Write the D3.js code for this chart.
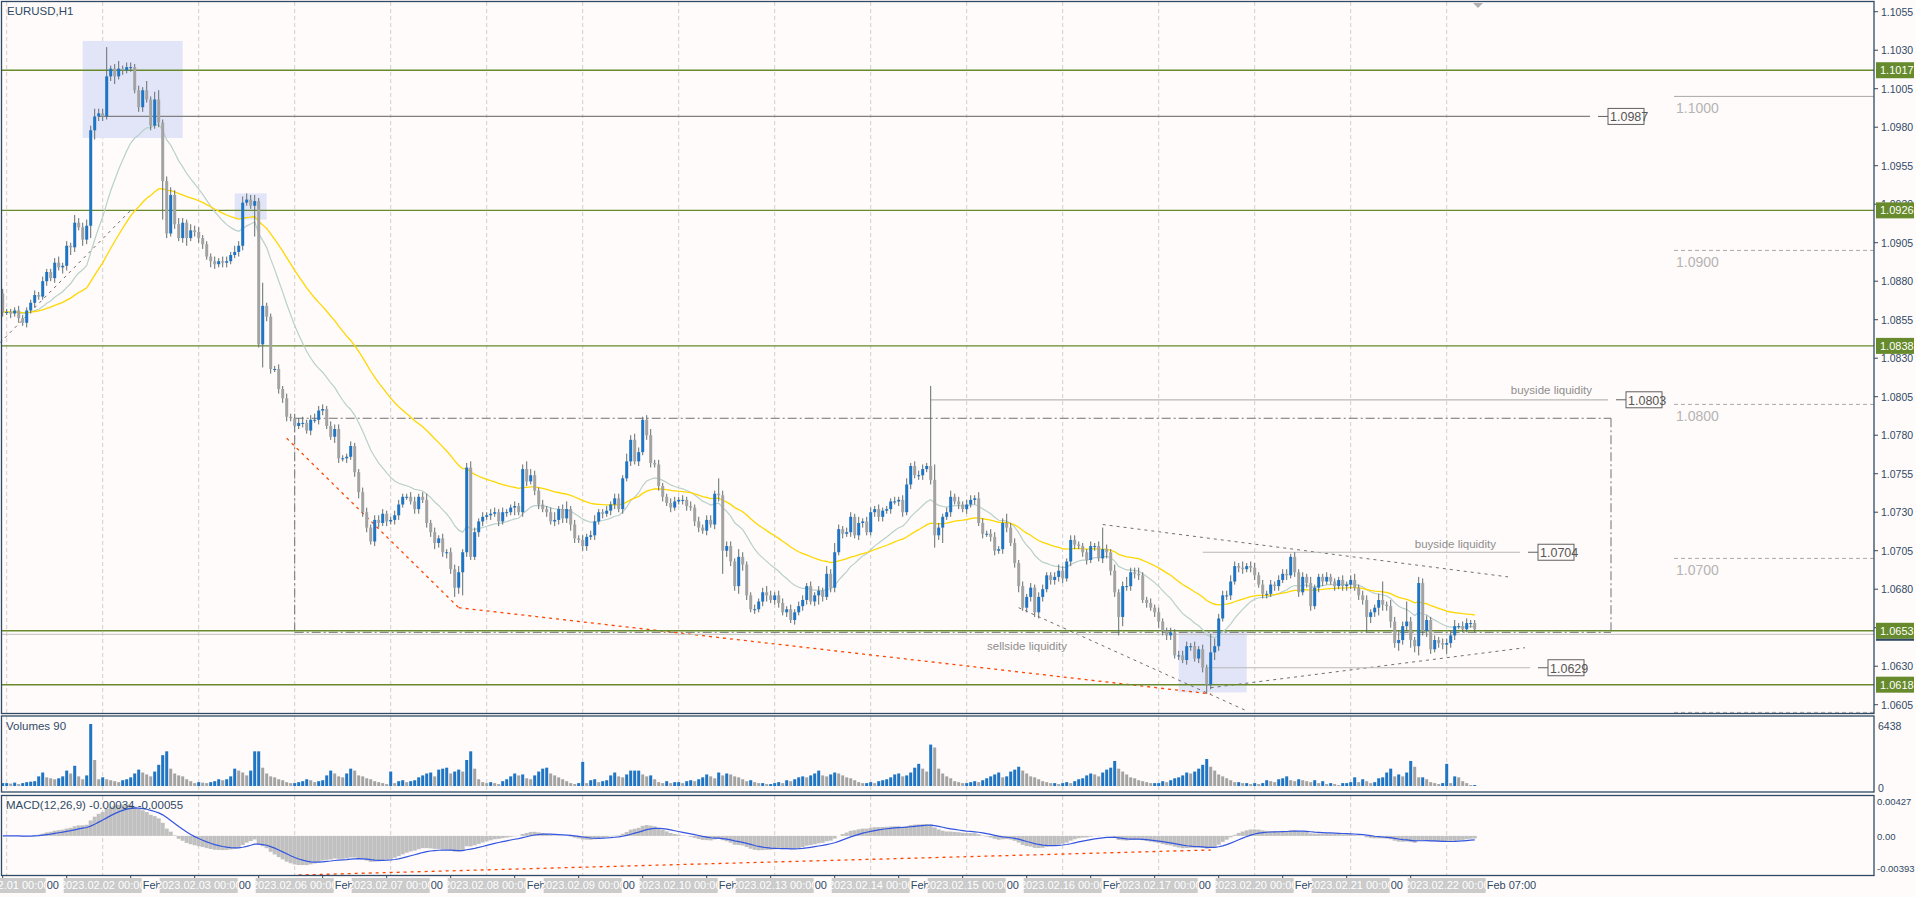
<!DOCTYPE html>
<html><head><meta charset="utf-8">
<script src="https://cdn.jsdelivr.net/npm/d3@7"></script>
<style>body{margin:0;background:#fffbfa;}svg{display:block;}</style>
</head><body>
<svg id="c" width="1916" height="897"></svg>
<script>
// ---------- DATA ----------
const firstOpen = 1.0872;
const closes = [1.0860,
1.0860,1.0859,1.0861,1.0856,1.0853,1.0861,1.0866,1.0871,1.0870,1.0880,1.0886,1.0882,1.0892,1.0889,1.0890,1.0903,1.0902,1.0918,1.0915,1.0907,1.0916,1.0978,1.0987,1.0989,
1.0987,1.1013,1.1018,1.1013,1.1018,1.1017,1.1019,1.1019,1.1004,1.0993,1.1004,1.0998,1.0981,1.0998,1.0983,1.0945,1.0911,1.0936,1.0917,1.0908,1.0918,1.0908,1.0913,1.0912,
1.0908,1.0904,1.0896,1.0893,1.0891,1.0893,1.0892,1.0893,1.0897,1.0899,1.0903,1.0931,1.0933,1.0929,1.0932,1.0839,1.0864,1.0857,1.0823,1.0823,1.0810,1.0804,1.0792,1.0791,
1.0786,1.0788,1.0788,1.0783,1.0790,1.0790,1.0796,1.0797,1.0786,1.0779,1.0784,1.0765,1.0765,1.0766,1.0773,1.0756,1.0743,1.0730,1.0720,1.0711,1.0725,1.0723,1.0729,1.0724,
1.0725,1.0728,1.0735,1.0740,1.0740,1.0737,1.0732,1.0740,1.0738,1.0723,1.0717,1.0710,1.0713,1.0704,1.0704,1.0693,1.0681,1.0691,1.0704,1.0759,1.0701,1.0717,1.0724,1.0727,
1.0728,1.0729,1.0730,1.0724,1.0730,1.0730,1.0733,1.0734,1.0730,1.0758,1.0750,1.0754,1.0744,1.0735,1.0732,1.0730,1.0724,1.0725,1.0732,1.0726,1.0732,1.0722,1.0713,1.0712,
1.0708,1.0714,1.0715,1.0724,1.0730,1.0729,1.0731,1.0735,1.0739,1.0732,1.0752,1.0763,1.0777,1.0763,1.0769,1.0790,1.0780,1.0762,1.0761,1.0747,1.0740,1.0736,1.0733,1.0737,
1.0738,1.0738,1.0734,1.0733,1.0724,1.0720,1.0718,1.0725,1.0722,1.0742,1.0741,1.0705,1.0708,1.0698,1.0682,1.0701,1.0696,1.0676,1.0667,1.0667,1.0672,1.0678,1.0676,1.0673,
1.0676,1.0671,1.0665,1.0667,1.0660,1.0665,1.0669,1.0673,1.0682,1.0672,1.0676,1.0679,1.0675,1.0690,1.0681,1.0704,1.0719,1.0716,1.0717,1.0727,1.0715,1.0723,1.0724,1.0717,
1.0730,1.0732,1.0727,1.0731,1.0732,1.0737,1.0737,1.0738,1.0730,1.0748,1.0760,1.0754,1.0754,1.0758,1.0760,1.0751,1.0715,1.0720,1.0727,1.0730,1.0740,1.0737,1.0735,1.0732,
1.0735,1.0738,1.0739,1.0723,1.0716,1.0716,1.0714,1.0705,1.0706,1.0723,1.0720,1.0710,1.0697,1.0682,1.0668,1.0675,1.0681,1.0665,1.0675,1.0680,1.0689,1.0686,1.0688,1.0692,
1.0687,1.0698,1.0712,1.0709,1.0708,1.0704,1.0699,1.0708,1.0708,1.0700,1.0706,1.0704,1.0692,1.0678,1.0662,1.0682,1.0682,1.0691,1.0690,1.0689,1.0673,1.0671,1.0668,1.0665,
1.0659,1.0653,1.0650,1.0652,1.0637,1.0637,1.0634,1.0643,1.0643,1.0635,1.0641,1.0629,1.0618,1.0639,1.0643,1.0661,1.0676,1.0676,1.0685,1.0695,1.0694,1.0693,1.0695,1.0694,
1.0689,1.0683,1.0677,1.0677,1.0683,1.0682,1.0686,1.0690,1.0689,1.0701,1.0691,1.0678,1.0688,1.0684,1.0669,1.0681,1.0688,1.0685,1.0688,1.0685,1.0682,1.0686,1.0682,1.0683,
1.0686,1.0681,1.0676,1.0673,1.0662,1.0665,1.0668,1.0673,1.0670,1.0669,1.0659,1.0645,1.0647,1.0656,1.0659,1.0647,1.0643,1.0684,1.0653,1.0660,1.0641,1.0647,1.0645,1.0644,
1.0645,1.0650,1.0656,1.0656,1.0654,1.0658,1.0658,1.0654];
// wick extensions in pips above max(open,close) / below min(open,close)
const wickUp = [3,
2,2,2,3,2,2,2,3,2,3,2,2,3,4,2,3,2,5,3,3,4,3,5,3,
3,19,2,3,5,2,3,3,2,3,2,6,2,5,6,2,3,5,3,4,3,2,4,3,
3,2,2,2,3,2,3,3,2,4,3,4,4,3,4,2,15,2,2,2,3,2,3,2,
3,3,4,2,3,4,3,3,2,3,3,3,2,2,3,2,2,3,3,2,3,3,3,2,
2,3,3,2,2,3,3,2,3,4,2,3,2,3,2,3,3,4,2,3,4,3,2,3,
2,3,3,2,3,2,2,3,2,3,5,4,3,2,3,2,3,5,2,3,5,2,3,2,
3,2,3,4,2,2,3,2,3,3,2,5,3,4,3,2,3,4,2,3,2,2,3,3,
2,3,2,3,2,3,2,3,3,2,10,3,3,3,2,5,3,2,2,3,2,3,4,3,
2,3,3,2,3,2,3,3,2,3,2,3,2,5,3,6,3,2,3,3,2,4,2,3,
3,2,3,2,2,2,3,2,3,4,2,3,3,3,2,52,10,3,2,3,4,2,3,2,
3,3,2,4,3,2,3,3,2,3,6,3,3,2,3,2,3,2,3,3,2,2,3,4,
3,2,3,3,2,2,2,3,2,3,14,3,2,4,2,3,6,3,3,4,2,2,3,2,
3,2,2,3,2,3,3,3,2,3,2,3,2,12,5,3,3,3,4,3,2,4,2,3,
3,2,3,2,3,2,3,3,3,2,3,2,3,2,4,2,2,2,3,2,2,2,3,2,
3,4,2,3,3,2,2,4,12,2,4,3,6,3,13,3,2,4,3,3,2,3,2,3,
3,3,4,2,3,3,2,2];
const wickDn = [3,
2,3,2,3,2,3,2,3,2,2,3,2,3,2,4,3,5,3,2,4,3,8,6,3,
3,2,3,5,2,3,2,3,2,3,3,2,3,2,3,25,3,2,3,2,3,5,2,3,
3,3,2,4,3,2,3,3,2,2,3,3,2,2,20,2,15,3,3,2,3,3,3,2,
3,2,3,2,3,2,3,3,2,2,4,3,2,3,2,3,4,3,3,2,3,3,2,3,
2,3,3,2,2,2,3,3,2,3,3,4,3,3,4,3,6,4,15,3,2,2,3,3,
2,3,2,3,2,3,2,5,2,3,3,2,3,3,2,3,2,3,3,3,3,4,3,2,
3,3,2,3,2,3,2,3,3,2,3,2,3,2,3,2,3,3,2,3,3,2,3,2,
2,3,3,2,3,3,2,3,2,3,4,15,4,3,3,5,4,3,2,3,2,3,4,2,
3,3,2,3,2,3,2,3,3,2,3,6,3,2,3,3,2,3,2,3,2,3,3,2,
2,3,3,3,2,3,2,3,3,2,3,2,3,3,2,3,8,3,10,2,3,2,3,2,
3,2,3,2,3,2,3,3,2,3,3,2,3,4,2,3,3,3,4,3,2,3,3,3,
3,2,3,3,2,3,3,2,3,2,3,4,3,3,12,6,3,3,3,3,2,3,2,3,
4,3,3,3,2,3,2,3,3,2,3,3,6,3,5,3,2,3,3,2,3,3,2,3,
3,2,3,3,2,3,3,2,3,2,3,3,2,3,3,2,3,3,2,2,3,2,3,3,
3,2,3,3,10,4,3,5,4,3,4,3,5,3,3,5,4,6,3,4,3,2,3,3,
6,3,3,2,2,2,3,2];
const volumes = [300,
300,250,350,200,300,400,450,500,1000,1400,900,800,700,800,1000,1600,1300,2100,1000,700,1100,6438,2700,700,
900,700,600,500,400,600,700,900,1300,1700,1400,1200,1000,1500,2200,3200,3600,1800,1300,1100,1000,700,500,300,
400,350,300,400,500,700,600,700,1000,1800,1600,1400,1100,1600,3600,3600,1900,1300,1000,900,700,600,400,300,
300,400,500,700,600,400,500,600,1100,1600,1300,1000,900,1300,1800,1600,1100,1000,800,700,500,400,300,200,
1500,300,500,600,400,500,600,900,1100,1300,1400,1000,1700,1800,1900,1300,1500,1700,1500,2700,3600,1800,700,400,
300,400,300,200,500,700,1000,1300,1100,1200,800,700,1100,1500,1800,1900,1300,1100,900,700,500,300,200,300,
2500,300,600,700,400,500,600,1100,1400,1000,900,1200,1600,1600,1600,1200,1000,1100,700,400,300,500,300,400,
400,300,500,600,500,700,900,1200,1000,800,1400,1100,1300,1200,1000,900,700,500,600,400,300,300,200,200,
300,400,300,600,500,700,900,1000,900,1100,1300,1600,1100,1000,1200,1400,1300,1100,900,800,600,400,300,300,
400,300,500,600,700,900,1200,1300,1000,1100,1400,1900,2300,1800,1500,4300,4000,1800,1300,1000,800,500,400,300,
300,400,500,400,600,800,1000,1200,1400,900,1000,1500,1700,2000,1600,1300,1000,900,700,500,400,300,300,200,
300,400,300,500,700,800,1100,1300,1200,1000,1400,1700,1900,2600,1800,1500,1200,900,800,600,500,400,300,300,
300,500,400,600,800,900,1100,1400,1300,1500,1800,2200,2800,2000,1600,1200,1000,800,600,400,400,300,300,200,
300,200,300,600,500,400,700,800,1000,600,500,700,600,500,400,600,300,500,200,300,200,100,300,300,
400,900,400,700,500,300,400,800,900,1400,1800,1000,1200,1000,1400,2600,2000,900,900,700,400,300,200,300,
2300,300,1000,900,500,300,100,100];
const dayLabels = ["2023.02.01 00:00","2023.02.02 00:00","2023.02.03 00:00","2023.02.06 00:00","2023.02.07 00:00","2023.02.08 00:00","2023.02.09 00:00","2023.02.10 00:00","2023.02.13 00:00","2023.02.14 00:00","2023.02.15 00:00","2023.02.16 00:00","2023.02.17 00:00","2023.02.20 00:00","2023.02.21 00:00","2023.02.22 00:00"];
const gapFragments = ["00","Feb","00","Feb","00","Feb","00","Feb","00","Feb","00","Feb","00","Feb","00"];
const priceTicks = [1.1055,1.1030,1.1005,1.0980,1.0955,1.0930,1.0905,1.0880,1.0855,1.0830,1.0805,1.0780,1.0755,1.0730,1.0705,1.0680,1.0655,1.0630,1.0605];
const greenLevels = [1.1017,1.0926,1.0838,1.0653,1.0618];
const roundLevels = [1.1000,1.0900,1.0800,1.0700,1.0600];
const volTicks = [6438,0];
const macdTicks = [0.00427,0,-0.00393];
const macdTickLabels = ["0.00427","0.00","-0.00393"];

// ---------- SETUP ----------
const svg = d3.select("#c");
const N = closes.length;
const opens = closes.map((c,i)=> i===0 ? firstOpen : closes[i-1]);
const highs = closes.map((c,i)=> Math.max(c,opens[i]) + wickUp[i]/10000);
const lows  = closes.map((c,i)=> Math.min(c,opens[i]) - wickDn[i]/10000);

const AX = 1874;
const x = d3.scaleLinear().domain([0, N-1]).range([2.7, 2.7+4*(N-1)]);
const y = d3.scaleLinear().domain([1.10626, 1.10626-713/15400]).range([0, 713]);
const yv = d3.scaleLinear().domain([0, 6438]).range([786, 724]);
const ym = d3.scaleLinear().domain([-0.00393, 0.00427]).range([868, 801]);
const FONT = "Liberation Sans, Arial, sans-serif";
const AXC = "#2f4a66";
const GREEN = "#668a2c";

svg.append("rect").attr("width",1916).attr("height",897).attr("fill","#fffbfa");

const grid = svg.append("g");
dayLabels.forEach((d,k)=>{
  const i = 1+24*k;
  [[2,713],[716,792],[796,875]].forEach(([a,b])=>{
    grid.append("line").attr("x1",x(i)).attr("x2",x(i)).attr("y1",a).attr("y2",b)
      .attr("stroke","#cfcfcf").attr("stroke-dasharray","4,3");
  });
});

const hl = svg.append("g").attr("fill","#e2e5f8");
hl.append("rect").attr("x",x(20)).attr("y",y(1.1036)).attr("width",x(45)-x(20)).attr("height",y(1.0973)-y(1.1036));
hl.append("rect").attr("x",x(58)).attr("y",y(1.0937)).attr("width",x(66)-x(58)).attr("height",y(1.0920)-y(1.0937));
hl.append("rect").attr("x",x(294)).attr("y",y(1.0653)).attr("width",x(311)-x(294)).attr("height",y(1.0613)-y(1.0653));

roundLevels.forEach((p,k)=>{
  svg.append("line").attr("x1",1674).attr("x2",AX).attr("y1",y(p)).attr("y2",y(p))
    .attr("stroke","#a8a8a8").attr("stroke-dasharray", k===0? null : "4,3");
  if(k<4) svg.append("text").attr("x",1676).attr("y",y(p)+17).text(p.toFixed(4))
    .attr("font-family",FONT).attr("font-size",14).attr("fill","#b4b4b4");
});

const rb = svg.append("g").attr("stroke","#707070").attr("fill","none").attr("stroke-dasharray","9,3,2,3");
rb.append("line").attr("x1",x(73)).attr("x2",1611).attr("y1",y(1.0791)).attr("y2",y(1.0791));
rb.append("line").attr("x1",x(73)).attr("x2",1611).attr("y1",y(1.0652)).attr("y2",y(1.0652));
rb.append("line").attr("x1",x(73)).attr("x2",x(73)).attr("y1",y(1.0791)).attr("y2",y(1.0652));
rb.append("line").attr("x1",1611).attr("x2",1611).attr("y1",y(1.0791)).attr("y2",y(1.0652));

const tl = svg.append("g").attr("stroke","#707070").attr("stroke-dasharray","3,4").attr("fill","none");
tl.append("line").attr("x1",0).attr("y1",y(1.0840)).attr("x2",x(32)).attr("y2",y(1.0926));
tl.append("line").attr("x1",x(275)).attr("y1",y(1.0722)).attr("x2",1508).attr("y2",y(1.0688));
tl.append("line").attr("x1",x(254)).attr("y1",y(1.0668)).attr("x2",x(311)).attr("y2",y(1.0601));
tl.append("line").attr("x1",x(302)).attr("y1",y(1.0616)).attr("x2",1525).attr("y2",y(1.0642));

const red = svg.append("g").attr("stroke","#ff4500").attr("stroke-dasharray","3,4").attr("stroke-width",1.3).attr("fill","none");
red.append("line").attr("x1",x(71)).attr("y1",y(1.0778)).attr("x2",x(114)).attr("y2",y(1.0668));
red.append("line").attr("x1",x(114)).attr("y1",y(1.0668)).attr("x2",x(302)).attr("y2",y(1.0612));
red.append("line").attr("x1",x(74)).attr("y1",875).attr("x2",x(302)).attr("y2",850);

greenLevels.forEach(p=>{
  svg.append("line").attr("x1",2).attr("x2",AX).attr("y1",y(p)).attr("y2",y(p))
    .attr("stroke",GREEN).attr("stroke-width",1.4);
});
svg.append("line").attr("x1",2).attr("x2",AX).attr("y1",y(1.0652)+2).attr("y2",y(1.0652)+2).attr("stroke","#c0c0c0");

function levelLine(p, x1, x2, label, dark){
  svg.append("line").attr("x1",x1).attr("x2",x2).attr("y1",y(p)).attr("y2",y(p)).attr("stroke", dark?"#808080":"#b8b8b8").attr("stroke-width",1.2);
  svg.append("line").attr("x1",x2+8).attr("x2",x2+18).attr("y1",y(p)).attr("y2",y(p)).attr("stroke","#606060");
  svg.append("rect").attr("x",x2+18).attr("y",y(p)-8).attr("width",36).attr("height",16).attr("fill","#fffbfa").attr("stroke","#606060");
  svg.append("text").attr("x",x2+20).attr("y",y(p)+5).text(label).attr("font-family",FONT).attr("font-size",12.5).attr("fill","#555");
}
levelLine(1.0987, x(24), 1590, "1.0987", true);
levelLine(1.0803, x(232), 1608, "1.0803");
levelLine(1.0704, x(300), 1520, "1.0704");
levelLine(1.0629, x(301), 1530, "1.0629");
function note(t, xr, yy){ svg.append("text").attr("x",xr).attr("y",yy).attr("text-anchor","end").text(t)
  .attr("font-family",FONT).attr("font-size",11.5).attr("fill","#8e8e8e"); }
note("buyside liquidity", 1592, 394);
note("buyside liquidity", 1496, 548);
note("sellside liquidity", 1067, 650);

function ema(arr, n){ const k=2/(n+1); let e=arr[0]; return arr.map(v=> (e = v*k + e*(1-k))); }
const ema20 = ema(closes,20), ema50 = ema(closes,50);
const line = d3.line().x((d,i)=>x(i)).y(d=>y(d));
svg.append("path").attr("d",line(ema20)).attr("fill","none").attr("stroke","#b8d0cc").attr("stroke-width",1.2);
svg.append("path").attr("d",line(ema50)).attr("fill","none").attr("stroke","#ffd700").attr("stroke-width",1.3);

const cg = svg.append("g");
closes.forEach((c,i)=>{
  const o=opens[i], up=c>=o;
  cg.append("line").attr("x1",x(i)).attr("x2",x(i)).attr("y1",y(highs[i])).attr("y2",y(lows[i])).attr("stroke","#5f6f70");
  const t=y(Math.max(o,c)), b=y(Math.min(o,c));
  cg.append("rect").attr("x",x(i)-1.5).attr("width",3).attr("y",t).attr("height",Math.max(1,b-t))
    .attr("fill", up? "#1f74c4":"#a3a3a3");
});

volumes.forEach((v,i)=>{
  const up = i===0 || v>=volumes[i-1];
  svg.append("rect").attr("x",x(i)-1.5).attr("width",3).attr("y",yv(v)).attr("height",yv(0)-yv(v))
    .attr("fill", up? "#1f74c4":"#a3a3a3");
});

const e12=ema(closes,12), e26=ema(closes,26);
const macd=e12.map((v,i)=>v-e26[i]);
const sig=ema(macd,9);
macd.forEach((m,i)=>{
  svg.append("rect").attr("x",x(i)-2).attr("width",4).attr("y",Math.min(ym(m),ym(0))).attr("height",Math.abs(ym(m)-ym(0)))
    .attr("fill","#c0c0c0");
});
svg.append("path").attr("d",d3.line().x((d,i)=>x(i)).y(d=>ym(d))(sig)).attr("fill","none").attr("stroke","#3355e0").attr("stroke-width",1.2);

const pb = svg.append("g").attr("fill","none").attr("stroke",AXC).attr("stroke-width",1.3);
pb.append("rect").attr("x",1.5).attr("y",1.5).attr("width",AX-1.5).attr("height",712);
pb.append("rect").attr("x",1.5).attr("y",716).attr("width",AX-1.5).attr("height",76);
pb.append("rect").attr("x",1.5).attr("y",795.5).attr("width",AX-1.5).attr("height",80);

function ttl(t,xx,yy){ svg.append("text").attr("x",xx).attr("y",yy).text(t).attr("font-family",FONT).attr("font-size",11.5).attr("fill",AXC); }
ttl("EURUSD,H1",7,15);
ttl("Volumes 90",6,730);
ttl("MACD(12,26,9) -0.00034 -0.00055",6,809);

priceTicks.forEach(p=>{
  svg.append("line").attr("x1",AX).attr("x2",AX+4).attr("y1",y(p)).attr("y2",y(p)).attr("stroke",AXC);
  svg.append("text").attr("x",AX+7).attr("y",y(p)+4).text(p.toFixed(4)).attr("font-family",FONT).attr("font-size",10.5).attr("fill",AXC);
});
greenLevels.forEach(p=>{
  svg.append("rect").attr("x",AX+2).attr("y",y(p)-8).attr("width",38).attr("height",16).attr("fill",GREEN);
  svg.append("text").attr("x",AX+6).attr("y",y(p)+4).text(p.toFixed(4)).attr("font-family",FONT).attr("font-size",11).attr("fill","#fff");
});
svg.append("rect").attr("x",AX+2).attr("y",y(1.0653)+8).attr("width",38).attr("height",2).attr("fill",AXC);
volTicks.forEach(v=>{
  svg.append("text").attr("x",AX+4).attr("y",yv(v)+6).text(v).attr("font-family",FONT).attr("font-size",10.5).attr("fill",AXC);
});
macdTicks.forEach((m,k)=>{
  svg.append("text").attr("x",AX+3).attr("y",ym(m)+4).text(macdTickLabels[k]).attr("font-family",FONT).attr("font-size",9.5).attr("fill",AXC);
});
svg.append("path").attr("d","M1473,3 L1483,3 L1478,8 Z").attr("fill","#b0b0b0");

const ta = svg.append("g").attr("font-family",FONT).attr("font-size",11);
for(let i=1;i<N;i+=16){
  ta.append("line").attr("x1",x(i)-4).attr("x2",x(i)-4).attr("y1",875).attr("y2",880).attr("stroke",AXC);
}
dayLabels.forEach((t,k)=>{
  const xi = x(1+24*k);
  ta.append("rect").attr("x",xi-39).attr("y",878).attr("width",78).attr("height",15).attr("fill","#cbcbcb");
  ta.append("text").attr("x",xi).attr("y",889).attr("text-anchor","middle").text(t).attr("fill","#fff");
  if(k<gapFragments.length)
    ta.append("text").attr("x",xi+40).attr("y",889).text(gapFragments[k]).attr("fill",AXC);
});
ta.append("text").attr("x",x(N-1)+12).attr("y",889).text("Feb 07:00").attr("fill",AXC);
</script>
</body></html>
